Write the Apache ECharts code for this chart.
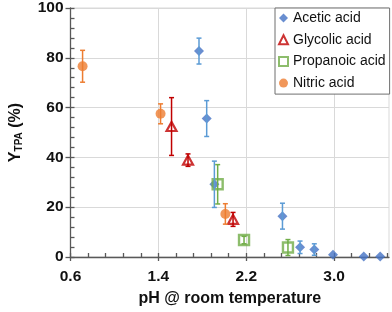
<!DOCTYPE html>
<html>
<head>
<meta charset="utf-8">
<script src="https://cdn.jsdelivr.net/npm/echarts@6/dist/echarts.min.js"></script>
<style>html,body{margin:0;padding:0;background:#fff}#c{width:392px;height:312px}</style>
</head>
<body>
<div id="c"></div>
<script>
// ---- data ----
const aceticPH  = [1.77, 1.84, 1.91, 2.53, 2.69, 2.82, 2.99, 3.27, 3.42];
const aceticY   = [82.7, 55.6, 29.2, 16.4, 3.9, 3.0, 0.9, 0.2, 0.2];
const aceticErr = [5.2, 7.2, 9.3, 5.2, 2.5, 2.3, 0, 0, 0];

const glycolicPH  = [1.52, 1.67, 2.08];
const glycolicY   = [52.4, 38.9, 15.1];
const glycolicErr = [11.6, 2.5, 2.8];

const propanoicPH  = [1.94, 2.18, 2.58];
const propanoicY   = [29.2, 6.8, 3.8];
const propanoicErr = [7.9, 1.5, 3.2];

const nitricPH  = [0.71, 1.42, 2.01];
const nitricY   = [76.6, 57.5, 17.3];
const nitricErr = [6.4, 4.0, 4.1];

const xMajorTicks = [0.6, 1.4, 2.2, 3.0];
const xMinorTicks = [0.6, 0.76, 0.92, 1.08, 1.24, 1.4, 1.56, 1.72, 1.88, 2.04, 2.2, 2.36, 2.52, 2.68, 2.84, 3.0, 3.16, 3.32, 3.48];
const seriesNames = ['Acetic acid', 'Glycolic acid', 'Propanoic acid', 'Nitric acid'];

// ---- chart ----
const FONT = '"Liberation Sans", Arial, sans-serif';
const AX = '#595959';
const GRID = '#d9d9d9';

function pts(xs, ys) { return xs.map((x, i) => [x, ys[i]]); }
function errPts(xs, ys, es) { return xs.map((x, i) => [x, ys[i], es[i]]); }

function errSeries(name, xs, ys, es, color) {
  return {
    type: 'custom', name: name, z: 5, silent: true,
    xAxisIndex: 0, yAxisIndex: 0,
    data: errPts(xs, ys, es),
    encode: { x: 0, y: 1 },
    renderItem: function (params, api) {
      const x = api.value(0), y = api.value(1), e = api.value(2);
      if (!e) return null;
      const t = api.coord([x, y + e]);
      const b = api.coord([x, y - e]);
      const hw = 2.5;
      const st = { stroke: color, lineWidth: 1.5 };
      return {
        type: 'group',
        children: [
          { type: 'line', shape: { x1: t[0], y1: t[1], x2: b[0], y2: b[1] }, style: st },
          { type: 'line', shape: { x1: t[0] - hw, y1: t[1], x2: t[0] + hw, y2: t[1] }, style: st },
          { type: 'line', shape: { x1: b[0] - hw, y1: b[1], x2: b[0] + hw, y2: b[1] }, style: st }
        ]
      };
    }
  };
}

const chart = echarts.init(document.getElementById('c'), null, { renderer: 'canvas' });
chart.setOption({
  animation: false,
  backgroundColor: '#fff',
  textStyle: { fontFamily: FONT },
  grid: { left: 58, right: 3, top: 7, bottom: 50, show: true, borderColor: GRID, borderWidth: 1, containLabel: false },
  legend: {
    data: seriesNames,
    orient: 'vertical',
    left: 275, top: 8,
    padding: [3, 4, 4, 3],
    itemGap: 7.7,
    itemWidth: 9, itemHeight: 9,
    backgroundColor: '#fff',
    borderColor: '#6f6f6f', borderWidth: 1,
    textStyle: { fontFamily: FONT, fontSize: 14, color: '#111', lineHeight: 14 }
  },
  xAxis: [{
    type: 'value', min: 0.6, max: 3.5,
    name: 'pH @ room temperature', nameLocation: 'middle', nameGap: 34,
    nameTextStyle: { fontFamily: FONT, fontSize: 16, fontWeight: 'bold', color: '#111' },
    axisLine: { show: true, onZero: false, lineStyle: { color: AX, width: 1.3 } },
    axisTick: { show: true, inside: false, length: 4, customValues: xMajorTicks, lineStyle: { color: AX, width: 1.3 } },
    axisLabel: { customValues: xMajorTicks, margin: 12, fontFamily: FONT, fontSize: 15.5, fontWeight: 'bold', color: '#111',
      formatter: v => v.toFixed(1) },
    splitLine: { show: true, lineStyle: { color: GRID, width: 1 } }
  }, {
    type: 'value', min: 0.6, max: 3.5, position: 'bottom',
    axisLine: { show: false },
    axisTick: { show: true, inside: true, length: 4, customValues: xMinorTicks, lineStyle: { color: AX, width: 1.3 } },
    axisLabel: { show: false },
    splitLine: { show: false }
  }],
  yAxis: [{
    type: 'value', min: 0, max: 100, interval: 20,
    name: '{a|Y}{b|TPA}{a| (%)}', nameLocation: 'middle', nameGap: 46,
    nameTextStyle: {
      rich: {
        a: { fontFamily: FONT, fontSize: 16, fontWeight: 'bold', color: '#111' },
        b: { fontFamily: FONT, fontSize: 10, fontWeight: 'bold', color: '#111', padding: [7, 0, 0, 0] }
      }
    },
    axisLine: { show: true, onZero: false, lineStyle: { color: AX, width: 1.3 } },
    axisTick: { show: true, inside: false, length: 5, lineStyle: { color: AX, width: 1.3 } },
    axisLabel: { margin: 7, fontFamily: FONT, fontSize: 15.5, fontWeight: 'bold', color: '#111' },
    splitLine: { show: true, lineStyle: { color: GRID, width: 1 } }
  }, {
    type: 'value', min: 0, max: 100, interval: 4, position: 'left',
    axisLine: { show: false },
    axisTick: { show: true, inside: true, length: 4, lineStyle: { color: AX, width: 1.3 } },
    axisLabel: { show: false },
    splitLine: { show: false }
  }],
  series: [
    { type: 'scatter', name: seriesNames[0], xAxisIndex: 0, yAxisIndex: 0, z: 3,
      symbol: 'diamond', symbolSize: 10, data: pts(aceticPH, aceticY),
      itemStyle: { color: '#4472C4' } },
    errSeries('Acetic err', aceticPH, aceticY, aceticErr, '#5B9BD5'),
    { type: 'scatter', name: seriesNames[1], xAxisIndex: 0, yAxisIndex: 0, z: 3,
      symbol: 'triangle', symbolSize: [10, 9], data: pts(glycolicPH, glycolicY),
      itemStyle: { color: 'rgba(255,255,255,0)', borderColor: '#C00000', borderWidth: 2.2 } },
    errSeries('Glycolic err', glycolicPH, glycolicY, glycolicErr, '#C00000'),
    { type: 'scatter', name: seriesNames[2], xAxisIndex: 0, yAxisIndex: 0, z: 3,
      symbol: 'rect', symbolSize: 10, data: pts(propanoicPH, propanoicY),
      itemStyle: { color: 'rgba(255,255,255,0)', borderColor: '#70AD47', borderWidth: 2.4 } },
    errSeries('Propanoic err', propanoicPH, propanoicY, propanoicErr, '#70AD47'),
    { type: 'scatter', name: seriesNames[3], xAxisIndex: 0, yAxisIndex: 0, z: 3,
      symbol: 'circle', symbolSize: 10, data: pts(nitricPH, nitricY),
      itemStyle: { color: '#ED7D31' } },
    errSeries('Nitric err', nitricPH, nitricY, nitricErr, '#ED7D31')
  ]
});
</script>
</body>
</html>
